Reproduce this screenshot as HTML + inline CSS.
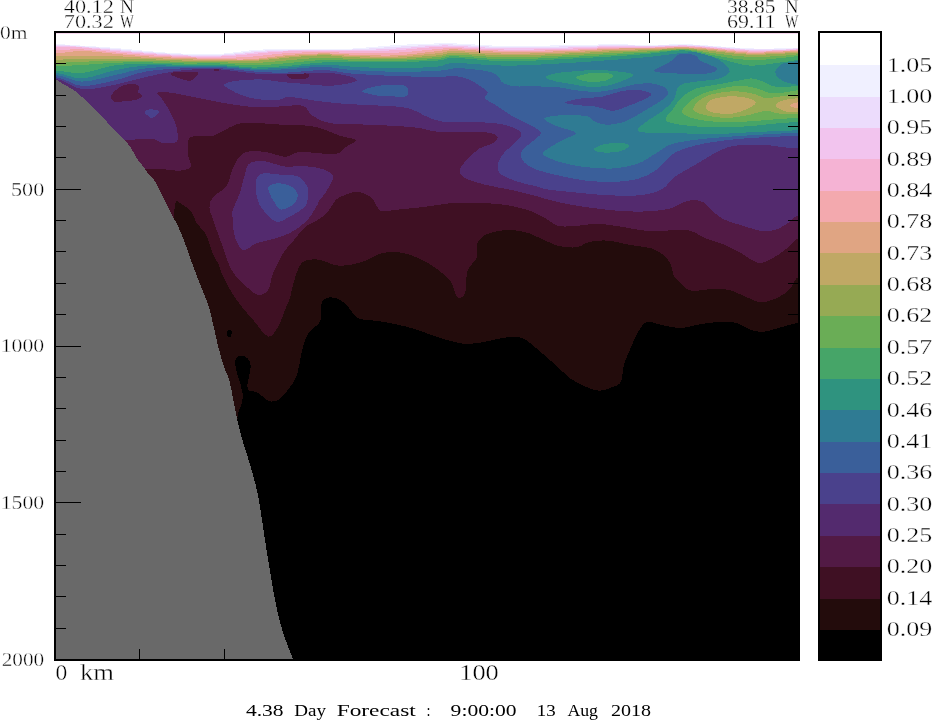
<!DOCTYPE html><html><head><meta charset="utf-8"><title>Forecast section</title>
<style>html,body{margin:0;padding:0;background:#fff;overflow:hidden}svg{display:block}text{font-family:"Liberation Serif",serif;fill:#000;stroke:#fff;stroke-width:.35px}text.t{stroke:none}</style></head><body>
<svg width="933" height="721" viewBox="0 0 933 721">
<rect width="933" height="721" fill="#fff"/>
<defs><clipPath id="pc"><rect x="55" y="32" width="745" height="628.6"/></clipPath></defs>
<g clip-path="url(#pc)" shape-rendering="crispEdges">
<rect x="55" y="32" width="745" height="629" fill="#000"/>
<path fill="#230c0c" d="M20.0 419.0C54.2 419.0 188.8 419.2 225.0 419.0C261.1 418.8 234.6 419.4 236.9 418.0C239.2 416.6 237.9 413.3 238.7 410.9C239.5 408.5 241.0 406.5 241.8 403.7C242.6 400.9 242.4 396.1 243.5 394.0C244.6 391.9 246.6 391.3 248.1 390.8C249.6 390.3 250.4 390.6 252.3 391.1C254.2 391.6 257.1 392.3 259.5 393.8C261.9 395.3 264.6 398.8 266.7 400.1C268.8 401.4 270.0 401.6 272.1 401.5C274.2 401.4 276.6 401.2 279.3 399.2C282.0 397.2 285.6 392.8 288.3 389.3C291.0 385.9 293.7 382.4 295.5 378.5C297.3 374.6 298.1 370.4 299.1 365.9C300.2 361.4 300.6 356.2 301.8 351.4C303.0 346.6 304.7 340.6 306.3 337.0C307.9 333.4 309.3 332.6 311.7 329.8C314.1 327.1 318.9 324.8 320.5 320.5C322.1 316.2 320.1 307.6 321.4 303.8C322.7 300.0 325.2 298.4 328.1 297.6C331.0 296.8 335.5 297.7 338.8 299.2C342.1 300.7 344.7 303.6 348.0 306.8C351.3 310.0 353.1 315.9 358.7 318.4C364.3 320.8 372.6 319.9 381.5 321.5C390.4 323.1 401.9 325.3 412.1 328.2C422.3 331.1 433.5 336.2 442.6 338.8C451.8 341.4 459.4 343.6 467.0 344.0C474.6 344.4 481.8 342.1 488.4 341.0C495.0 339.9 501.1 337.8 506.7 337.3C512.3 336.8 517.3 336.4 521.9 337.9C526.5 339.4 528.5 342.0 534.1 346.5C539.7 351.0 549.2 359.5 555.3 364.8C561.4 370.1 565.4 374.8 570.5 378.5C575.6 382.2 581.0 384.8 585.8 386.8C590.6 388.8 594.9 390.7 599.5 390.7C604.1 390.7 609.6 388.3 613.2 386.8C616.8 385.3 619.1 385.3 620.9 381.6C622.7 377.9 622.4 370.2 623.9 364.8C625.4 359.4 627.7 354.9 630.0 349.5C632.3 344.1 634.9 337.3 637.7 332.7C640.5 328.1 642.7 323.4 646.8 322.1C650.9 320.8 656.5 324.1 662.1 325.1C667.7 326.1 674.3 328.3 680.4 328.2C686.5 328.1 692.6 325.5 698.7 324.5C704.8 323.5 710.9 322.4 717.0 322.1C723.1 321.8 729.7 321.4 735.3 322.7C740.9 324.0 746.0 328.2 750.6 329.7C755.2 331.2 758.2 332.1 762.8 331.8C767.4 331.6 771.8 329.7 778.0 328.2C784.2 326.7 791.3 323.6 800.0 322.7C808.7 321.8 825.0 322.7 830.0 322.7L830 0L20 0Z"/>
<path fill="#000000" d="M241.4 355.9C243.2 356.0 246.1 356.6 247.7 358.3C249.3 360.0 250.6 362.8 250.8 365.9C251.0 369.0 249.6 373.4 249.0 376.7C248.4 380.0 247.2 383.0 247.2 385.7C247.2 388.4 249.7 391.6 249.0 393.0C248.3 394.4 244.4 395.5 243.0 394.0C241.6 392.5 241.5 387.4 240.5 383.9C239.5 380.4 237.8 376.7 236.9 373.1C236.0 369.5 235.1 364.9 235.1 362.3C235.1 359.7 235.9 358.6 237.0 357.5C238.1 356.4 239.6 355.8 241.4 355.9Z"/>
<path fill="#000000" d="M226.8 331.0C227.4 329.9 230.8 329.7 231.5 330.5C232.2 331.3 231.6 334.9 231.0 336.0C230.4 337.1 228.7 337.8 228.0 337.0C227.3 336.2 226.2 332.1 226.8 331.0Z"/>
<path fill="#3f1023" d="M20.0 300.0C41.7 300.0 125.0 306.3 150.0 300.0C175.0 293.7 166.0 275.8 170.0 262.0C174.0 248.2 173.5 226.0 174.2 217.3C174.9 208.6 174.0 212.3 174.4 209.6C174.8 206.9 175.3 202.2 176.4 201.2C177.5 200.2 178.4 202.1 180.9 203.8C183.4 205.5 188.5 208.2 191.2 211.5C193.9 214.8 194.7 220.3 196.9 223.7C199.2 227.1 202.5 228.7 204.7 232.1C206.8 235.5 208.4 240.6 209.8 244.3C211.2 248.1 211.6 251.4 213.0 254.6C214.4 257.8 216.5 259.9 218.2 263.6C219.9 267.3 220.1 270.6 223.2 276.6C226.2 282.7 231.5 292.7 236.5 299.9C241.5 307.1 247.8 313.8 253.1 319.9C258.4 326.0 263.9 335.4 268.1 336.5C272.3 337.6 275.1 331.5 278.1 326.5C281.2 321.5 284.4 311.4 286.4 306.6C288.4 301.8 288.6 302.2 290.0 297.6C291.4 293.1 292.6 285.1 294.6 279.3C296.6 273.5 298.4 265.9 302.2 262.6C306.0 259.3 311.4 259.0 317.5 259.5C323.6 260.0 331.7 265.1 338.8 265.6C345.9 266.1 353.1 264.6 360.2 262.6C367.3 260.6 374.9 255.1 381.5 253.4C388.1 251.7 393.8 251.7 399.9 252.5C406.0 253.3 412.1 255.3 418.2 258.0C424.3 260.7 431.2 264.9 436.5 268.7C441.8 272.5 446.9 276.3 450.2 280.9C453.5 285.5 454.5 293.3 456.3 296.1C458.1 298.9 459.4 298.4 460.9 297.6C462.4 296.8 464.4 296.1 465.5 291.5C466.6 286.9 465.7 275.8 467.6 270.2C469.5 264.6 475.1 262.6 476.8 258.0C478.5 253.4 475.8 246.8 477.7 242.7C479.6 238.6 483.1 235.7 488.4 233.6C493.7 231.5 503.1 230.0 509.7 229.9C516.3 229.8 523.0 231.6 528.0 233.0C533.0 234.4 535.0 236.0 540.0 238.1C545.0 240.2 552.2 244.3 558.3 245.8C564.4 247.3 571.5 247.9 576.6 247.3C581.7 246.7 583.7 243.2 588.8 242.1C593.9 241.0 600.0 240.1 607.1 240.6C614.2 241.1 623.9 243.8 631.5 245.2C639.1 246.6 647.3 246.9 652.9 248.8C658.5 250.7 662.0 253.7 665.1 256.5C668.2 259.3 669.7 262.3 671.2 265.6C672.7 268.9 671.8 272.5 674.3 276.3C676.8 280.1 683.0 286.1 686.5 288.5C690.0 290.9 691.5 290.8 695.6 290.9C699.7 291.0 705.3 289.2 710.9 289.1C716.5 289.0 723.1 288.6 729.2 290.0C735.3 291.4 742.2 295.6 747.5 297.6C752.8 299.6 756.1 302.2 761.2 302.2C766.3 302.2 773.2 299.9 778.0 297.6C782.8 295.3 786.5 292.1 790.2 288.5C793.9 284.9 793.4 278.3 800.0 276.3C806.6 274.3 825.0 276.3 830.0 276.3L830 0L20 0Z"/>
<path fill="#521a45" d="M20.0 169.0C36.7 169.0 98.3 168.9 120.0 169.0C141.7 169.1 142.4 169.3 150.0 169.4C157.6 169.5 160.5 169.2 165.4 169.4C170.3 169.6 175.2 171.2 179.4 170.7C183.6 170.2 189.1 169.6 190.5 166.6C191.9 163.6 187.9 157.2 187.7 152.6C187.5 147.9 187.2 141.5 189.1 138.7C191.0 135.9 194.9 136.4 198.9 135.9C202.9 135.4 207.7 137.3 212.8 135.9C217.9 134.5 224.8 129.6 229.5 127.5C234.2 125.4 235.1 124.1 240.7 123.4C246.3 122.7 256.0 123.2 263.0 123.4C270.0 123.6 277.2 124.6 282.5 124.8C287.8 125.0 289.1 124.3 295.0 124.8C300.9 125.2 310.4 125.7 317.9 127.5C325.4 129.3 333.9 133.8 340.2 135.9C346.5 138.0 354.6 138.2 355.5 140.1C356.4 142.0 349.2 144.8 345.7 147.1C342.2 149.4 342.2 153.2 334.6 154.0C327.0 154.8 308.2 151.5 300.0 152.0C291.8 152.5 290.6 156.7 285.3 156.8C280.1 156.9 274.1 153.5 268.5 152.6C262.9 151.7 256.4 150.7 251.8 151.2C247.2 151.7 243.9 152.4 240.7 155.4C237.4 158.4 234.6 164.3 232.3 169.4C230.0 174.5 229.9 181.5 226.7 186.1C223.4 190.7 215.7 193.5 212.8 197.2C209.9 200.8 209.4 204.2 209.5 208.0C209.6 211.8 211.2 214.1 213.2 220.0C215.2 225.9 218.4 235.0 221.5 243.3C224.6 251.6 227.3 262.7 231.5 269.9C235.7 277.1 242.1 282.4 246.5 286.6C250.9 290.8 254.5 294.3 258.1 294.9C261.7 295.4 265.6 293.5 268.1 289.9C270.6 286.3 270.6 279.4 273.1 273.3C275.6 267.2 279.6 258.9 283.1 253.3C286.6 247.8 290.3 244.4 294.0 240.0C297.7 235.6 300.9 230.5 305.3 226.9C309.7 223.3 316.4 221.2 320.5 218.3C324.6 215.4 327.1 212.2 329.7 209.2C332.2 206.1 333.6 202.2 335.8 200.0C338.0 197.8 339.5 197.2 343.0 195.8C346.5 194.4 352.3 191.5 356.9 191.7C361.5 191.9 367.6 194.9 370.8 197.2C374.1 199.5 374.5 203.3 376.4 205.6C378.3 207.9 378.8 210.5 382.0 211.2C385.2 211.9 388.9 210.5 395.9 209.8C402.9 209.1 413.6 208.2 423.8 207.0C434.0 205.8 444.7 203.3 457.2 202.8C469.7 202.3 487.4 203.0 499.0 204.2C510.6 205.4 519.2 207.5 526.9 209.8C534.6 212.1 539.8 215.3 545.0 218.0C550.2 220.7 553.0 224.6 558.3 225.9C563.6 227.2 570.5 226.2 576.6 225.9C582.7 225.6 588.3 223.8 594.9 223.8C601.5 223.8 608.1 224.8 616.3 225.9C624.4 227.0 635.1 229.7 643.8 230.5C652.4 231.3 660.6 230.5 668.2 230.5C675.8 230.5 683.4 229.2 689.5 230.5C695.6 231.8 699.2 235.8 704.8 238.1C710.4 240.4 717.0 241.6 723.1 244.2C729.2 246.8 736.3 250.6 741.4 253.4C746.5 256.2 750.0 259.5 753.6 261.0C757.2 262.5 758.7 263.6 762.8 262.6C766.9 261.6 773.4 257.7 778.0 254.9C782.6 252.1 786.5 248.6 790.2 245.8C793.9 243.0 793.4 239.4 800.0 238.1C806.6 236.8 825.0 238.1 830.0 238.1L830 0L20 0Z"/>
<path fill="#532a6e" d="M20.0 140.0C33.3 140.0 82.3 140.0 100.0 140.0C117.7 140.0 117.8 140.3 126.4 140.1C135.0 139.9 145.5 138.2 151.5 138.7C157.5 139.2 158.4 142.4 162.6 142.9C166.8 143.4 174.3 144.1 176.6 141.5C178.9 138.9 177.5 132.2 176.6 127.5C175.7 122.8 173.3 118.2 171.0 113.6C168.7 109.0 164.9 103.2 162.6 99.7C160.3 96.2 155.7 93.9 157.1 92.7C158.5 91.5 165.0 92.0 171.0 92.7C177.0 93.4 184.9 95.3 193.3 96.9C201.7 98.5 211.9 100.9 221.2 102.5C230.5 104.1 239.7 105.9 249.0 106.6C258.3 107.3 269.7 106.8 276.9 106.6C284.1 106.4 287.4 105.5 292.0 105.5C296.6 105.5 301.1 104.8 304.5 106.5C307.9 108.2 307.8 112.7 312.3 115.5C316.9 118.3 321.6 121.9 331.8 123.4C342.0 125.0 359.7 124.1 373.6 124.8C387.5 125.5 404.7 126.3 415.4 127.5C426.1 128.7 428.4 131.0 437.7 131.7C447.0 132.4 462.4 131.5 471.2 131.7C480.0 131.9 486.3 132.2 490.7 133.1C495.1 134.0 497.1 135.7 497.6 137.3C498.1 138.9 496.5 141.0 493.5 142.9C490.5 144.8 483.7 145.9 479.5 148.5C475.3 151.1 471.6 154.7 468.4 158.2C465.1 161.7 460.7 166.2 460.0 169.4C459.3 172.7 460.0 175.1 464.2 177.7C468.4 180.2 477.0 182.6 485.1 184.7C493.2 186.8 504.6 188.5 513.0 190.3C521.4 192.2 529.5 194.3 535.3 195.8C541.1 197.3 542.6 198.1 548.0 199.5C553.4 200.9 559.9 202.7 567.9 204.2C575.9 205.7 586.4 207.2 595.7 208.4C605.0 209.6 614.3 210.7 623.6 211.2C632.9 211.7 643.6 211.7 651.5 211.2C659.4 210.7 665.9 209.8 671.0 208.4C676.1 207.0 678.4 204.2 682.1 202.8C685.8 201.4 689.6 200.0 693.3 200.0C697.0 200.0 701.1 200.9 704.4 202.8C707.6 204.7 709.5 208.4 712.8 211.2C716.0 214.0 719.2 217.2 723.9 219.5C728.5 221.8 735.1 223.3 740.7 225.1C746.3 226.9 753.2 229.1 757.4 230.1C761.6 231.1 762.4 231.3 765.8 231.1C769.2 230.9 773.9 230.6 778.0 229.0C782.1 227.4 786.5 223.7 790.2 221.4C793.9 219.1 793.4 216.3 800.0 215.3C806.6 214.3 825.0 215.3 830.0 215.3L830 0L20 0Z"/>
<path fill="#532a6e" d="M300.0 166.0C295.6 165.9 291.5 167.4 285.3 166.6C279.1 165.8 269.1 161.5 263.0 161.0C256.9 160.5 252.0 161.5 249.0 163.8C246.0 166.1 246.4 169.8 244.8 174.9C243.2 180.0 241.4 188.4 239.3 194.4C237.2 200.4 233.4 207.5 232.3 211.2C231.2 214.9 232.1 212.5 232.5 216.7C232.9 220.9 233.0 231.0 234.8 236.6C236.6 242.2 239.5 248.9 243.1 250.0C246.7 251.1 251.5 245.1 256.5 243.3C261.5 241.5 267.6 240.7 273.1 239.0C278.7 237.3 284.2 236.0 289.8 233.0C295.4 230.0 302.0 225.4 306.4 221.0C310.8 216.6 314.2 210.2 316.4 206.7C318.6 203.2 318.1 202.5 319.7 200.0C321.3 197.5 323.9 195.6 326.2 191.7C328.4 187.8 333.7 180.0 333.2 176.3C332.7 172.6 326.9 171.0 323.4 169.4C319.9 167.8 315.9 167.6 312.0 167.0C308.1 166.4 304.4 166.1 300.0 166.0Z"/>
<path fill="#521a45" d="M111.0 96.0C111.7 94.3 113.8 91.8 116.0 90.0C118.2 88.2 120.7 85.9 124.0 85.0C127.3 84.1 133.5 84.0 136.0 84.5C138.5 85.0 138.7 86.8 139.0 88.0C139.3 89.2 137.5 90.7 138.0 92.0C138.5 93.3 142.3 94.7 142.0 96.0C141.7 97.3 138.7 99.2 136.0 100.0C133.3 100.8 129.3 100.7 126.0 101.0C122.7 101.3 118.3 102.2 116.0 102.0C113.7 101.8 112.8 101.0 112.0 100.0C111.2 99.0 110.3 97.7 111.0 96.0Z"/>
<path fill="#521a45" d="M170.7 74.0C171.0 73.1 173.9 72.0 178.0 71.7C182.1 71.4 191.6 71.6 195.0 72.0C198.4 72.4 198.7 72.6 198.2 74.0C197.7 75.4 194.2 79.3 192.0 80.3C189.8 81.3 187.7 80.5 185.0 80.0C182.3 79.5 178.4 78.0 176.0 77.0C173.6 76.0 170.4 74.9 170.7 74.0Z"/>
<path fill="#521a45" d="M212.8 70.0C212.8 69.6 214.9 69.0 216.0 69.0C217.1 69.0 219.6 69.6 219.6 70.0C219.6 70.4 217.1 71.2 216.0 71.2C214.9 71.2 212.8 70.4 212.8 70.0Z"/>
<path fill="#521a45" d="M288.0 73.5C285.7 74.4 288.2 77.7 291.0 78.6C293.8 79.5 301.9 79.2 305.0 78.8C308.1 78.4 309.5 76.9 309.5 76.0C309.5 75.1 308.6 73.6 305.0 73.2C301.4 72.8 290.3 72.6 288.0 73.5Z"/>
<path fill="#4a418c" d="M20.0 78.9C26.1 78.9 46.0 77.2 56.4 78.9C66.8 80.6 72.5 88.1 82.2 89.1C91.9 90.1 103.6 86.8 114.3 84.8C125.0 82.8 134.8 79.3 146.5 76.8C158.2 74.3 172.2 71.2 184.5 70.0C196.8 68.8 208.7 68.9 220.0 69.4C231.3 70.0 241.5 72.5 252.2 73.3C262.9 74.1 271.0 74.2 284.3 74.2C297.6 74.2 319.7 72.2 331.8 73.2C343.9 74.2 356.9 78.1 356.9 80.2C356.9 82.3 341.3 85.2 331.8 85.7C322.3 86.2 308.3 84.1 300.0 83.5C291.7 82.9 288.3 82.7 282.0 82.0C275.7 81.3 268.2 79.8 262.0 79.5C255.8 79.2 250.0 79.7 245.0 80.0C240.0 80.3 235.5 80.7 232.0 81.5C228.5 82.3 224.2 83.6 224.0 85.0C223.8 86.4 228.2 88.3 231.0 90.0C233.8 91.7 236.8 93.5 241.0 95.0C245.2 96.5 250.0 98.2 256.0 99.0C262.0 99.8 271.3 100.3 277.0 100.0C282.7 99.7 283.2 96.8 290.0 97.0C296.8 97.2 308.6 99.9 317.9 101.1C327.2 102.2 336.4 103.2 345.7 103.9C355.0 104.6 363.4 104.6 373.6 105.3C383.8 106.0 397.8 105.9 407.1 108.0C416.4 110.1 422.9 115.5 429.4 117.8C435.9 120.1 439.1 121.3 446.1 122.0C453.1 122.7 462.9 121.8 471.2 122.0C479.5 122.2 489.2 122.5 496.2 123.4C503.2 124.3 508.8 125.7 513.0 127.5C517.2 129.3 521.3 131.7 521.3 134.5C521.3 137.3 516.2 140.8 513.0 144.3C509.8 147.8 504.4 151.7 501.8 155.4C499.2 159.1 497.6 163.3 497.6 166.6C497.6 169.8 498.3 172.3 501.8 174.9C505.3 177.5 512.9 180.0 518.5 181.9C524.1 183.8 530.4 184.8 535.3 186.1C540.2 187.4 542.6 188.6 548.0 189.5C553.4 190.4 559.9 190.9 567.9 191.7C575.9 192.5 586.4 193.7 595.7 194.4C605.0 195.1 615.2 195.8 623.6 195.8C632.0 195.8 639.4 195.6 645.9 194.4C652.4 193.2 658.0 191.7 662.6 188.9C667.2 186.1 670.1 180.7 673.8 177.7C677.5 174.7 680.2 173.5 684.9 170.7C689.5 167.9 696.1 164.2 701.7 161.0C707.3 157.8 712.8 153.8 718.4 151.2C724.0 148.6 727.7 146.8 735.1 145.7C742.5 144.6 755.1 144.6 763.0 144.8C770.9 145.0 776.3 146.5 782.5 147.1C788.7 147.7 792.1 148.3 800.0 148.5C807.9 148.7 825.0 148.5 830.0 148.5L830 0L20 0Z"/>
<path fill="#4a418c" d="M256.0 180.5C257.0 176.4 258.6 174.4 263.0 173.5C267.4 172.6 277.3 174.6 282.5 174.9C287.7 175.2 290.9 174.9 294.0 175.5C297.1 176.1 298.8 176.3 301.1 178.5C303.5 180.7 307.1 185.0 308.1 188.9C309.1 192.8 307.8 198.8 307.0 202.0C306.2 205.2 306.0 205.9 303.1 208.3C300.2 210.8 294.2 214.5 289.8 216.7C285.4 218.9 280.8 222.7 276.4 221.6C271.9 220.5 266.3 213.9 263.1 210.0C259.9 206.1 258.2 202.9 257.0 198.0C255.8 193.1 255.0 184.6 256.0 180.5Z"/>
<path fill="#4a418c" d="M144.5 112.0C145.0 111.1 147.7 109.6 150.0 109.4C152.3 109.2 157.5 109.9 158.5 111.0C159.5 112.1 157.2 114.9 156.0 116.0C154.8 117.1 152.5 118.0 151.0 117.8C149.5 117.6 148.1 116.0 147.0 115.0C145.9 114.0 144.0 112.9 144.5 112.0Z"/>
<path fill="#3a5f9a" d="M20.0 77.3C26.1 77.3 46.0 75.9 56.4 77.3C66.8 78.7 72.5 85.4 82.2 85.9C91.9 86.4 103.6 82.9 114.3 80.5C125.0 78.1 134.8 73.4 146.5 71.4C158.2 69.4 172.2 68.8 184.5 68.3C196.8 67.8 208.7 67.7 220.0 68.2C231.3 68.7 241.5 70.7 252.2 71.4C262.9 72.2 272.5 72.9 284.3 72.7C296.1 72.5 311.7 70.0 322.9 70.1C334.1 70.2 339.6 72.5 351.5 73.5C363.4 74.5 380.0 75.4 394.3 76.0C408.6 76.6 427.1 76.9 437.2 76.9C447.3 76.9 449.8 75.6 455.0 76.0C460.2 76.4 464.4 77.8 468.7 79.5C473.0 81.2 477.5 84.2 480.7 86.3C483.9 88.4 486.9 90.3 487.6 92.3C488.3 94.3 483.7 96.1 485.1 98.3C486.5 100.5 491.6 102.3 496.2 105.3C500.8 108.3 506.9 112.9 513.0 116.4C519.0 119.9 527.9 123.4 532.5 126.2C537.1 129.0 540.8 130.5 540.8 133.1C540.8 135.7 535.5 138.7 532.5 141.5C529.5 144.3 524.6 147.0 522.7 149.8C520.8 152.6 520.1 155.4 521.3 158.2C522.5 161.0 525.6 164.2 529.7 166.6C533.8 169.0 540.6 170.9 546.0 172.5C551.4 174.1 555.9 175.0 562.3 176.3C568.7 177.6 576.2 179.6 584.6 180.5C593.0 181.4 603.7 182.1 612.5 181.9C621.3 181.7 630.1 181.2 637.5 179.1C644.9 177.0 651.5 173.3 657.1 169.4C662.7 165.5 666.4 158.9 671.0 155.4C675.6 151.9 678.9 150.6 684.9 148.5C690.9 146.4 698.8 144.4 707.2 142.9C715.6 141.4 725.8 140.2 735.1 139.3C744.4 138.4 752.2 137.9 763.0 137.3C773.8 136.7 788.8 136.1 800.0 135.9C811.2 135.7 825.0 135.9 830.0 135.9L830 0L20 0Z"/>
<path fill="#3a5f9a" d="M268.5 187.5C269.4 185.2 273.2 183.5 276.9 183.3C280.6 183.1 287.4 184.2 290.8 186.1C294.2 187.9 296.8 191.6 297.5 194.4C298.2 197.2 296.3 200.8 295.0 202.8C293.7 204.9 292.3 205.6 289.8 206.7C287.3 207.8 282.6 210.4 279.8 209.3C277.0 208.2 274.5 202.0 273.1 200.0C271.7 198.0 272.1 199.3 271.3 197.2C270.5 195.1 267.6 189.8 268.5 187.5Z"/>
<path fill="#3a5f9a" d="M361.7 91.1C362.5 89.8 370.3 87.5 375.0 86.5C379.7 85.5 384.8 85.0 390.0 85.0C395.2 85.0 403.5 84.5 406.3 86.3C409.1 88.1 408.9 94.1 407.0 95.8C405.1 97.5 399.5 96.5 395.0 96.5C390.5 96.5 384.2 96.4 380.0 96.0C375.8 95.6 373.1 94.8 370.0 94.0C366.9 93.2 360.9 92.3 361.7 91.1Z"/>
<path fill="#4a418c" d="M565.1 102.5C565.6 101.3 575.8 99.2 581.8 98.3C587.8 97.4 594.8 98.1 601.3 96.9C607.8 95.7 614.8 92.5 620.8 91.3C626.8 90.1 632.4 89.4 637.5 89.9C642.6 90.4 651.0 92.2 651.5 94.1C652.0 96.0 644.5 99.0 640.3 101.1C636.1 103.2 631.0 105.0 626.4 106.6C621.8 108.2 617.6 110.8 612.5 110.8C607.4 110.8 601.3 107.5 595.7 106.6C590.1 105.7 584.1 106.0 579.0 105.3C573.9 104.6 564.6 103.7 565.1 102.5Z"/>
<path fill="#2f7b93" d="M20.0 75.2C26.1 75.2 46.0 74.1 56.4 75.2C66.8 76.3 72.5 81.6 82.2 81.6C91.9 81.6 103.6 77.4 114.3 75.2C125.0 73.0 134.8 69.5 146.5 68.2C158.2 66.9 172.2 67.4 184.5 67.2C196.8 67.0 208.7 66.5 220.0 66.9C231.3 67.3 241.5 69.3 252.2 69.7C262.9 70.1 272.5 69.9 284.3 69.4C296.1 68.9 311.7 66.8 322.9 66.9C334.1 67.0 339.6 69.2 351.5 70.0C363.4 70.8 380.0 71.5 394.3 71.7C408.6 71.9 427.1 71.5 437.2 70.9C447.3 70.3 449.2 68.6 455.0 68.3C460.8 68.0 466.5 68.6 472.2 69.2C477.9 69.8 485.0 70.6 489.3 71.7C493.6 72.8 495.6 74.1 497.9 76.0C500.2 77.9 500.1 81.2 503.0 82.9C505.9 84.6 510.1 85.7 515.0 86.3C519.9 86.9 525.1 86.1 532.2 86.3C539.4 86.5 551.0 86.6 557.9 87.2C564.8 87.8 567.1 89.1 573.4 89.9C579.7 90.7 588.3 92.1 595.7 91.9C603.1 91.7 611.5 89.8 618.0 88.5C624.5 87.2 629.2 85.1 634.8 84.3C640.4 83.5 646.6 83.0 651.5 83.5C656.4 84.0 661.2 85.6 664.0 87.1C666.8 88.6 668.4 90.6 668.2 92.7C668.0 94.8 665.4 97.4 662.6 99.7C659.8 102.0 655.7 104.0 651.5 106.6C647.3 109.1 642.1 112.4 637.5 115.0C632.9 117.6 628.7 120.4 623.6 122.0C618.5 123.6 611.5 124.8 606.9 124.8C602.2 124.8 599.0 123.4 595.7 122.0C592.5 120.6 592.0 117.6 587.4 116.4C582.8 115.2 573.9 115.0 567.9 115.0C561.9 115.0 555.0 115.7 551.1 116.4C547.2 117.1 543.3 117.6 544.2 119.2C545.1 120.8 551.4 123.9 556.7 126.2C562.0 128.5 575.3 130.8 576.2 133.1C577.1 135.4 566.9 137.5 562.3 140.1C557.7 142.7 551.6 146.2 548.4 148.5C545.1 150.8 541.4 151.9 542.8 154.0C544.2 156.1 550.2 158.9 556.7 161.0C563.2 163.1 572.5 165.3 581.8 166.6C591.1 167.8 603.2 169.0 612.5 168.5C621.8 168.0 630.1 166.5 637.5 163.8C644.9 161.2 651.5 155.8 657.1 152.6C662.7 149.3 665.0 146.4 671.0 144.3C677.0 142.2 684.9 141.3 693.3 140.1C701.7 138.9 711.9 138.1 721.2 137.3C730.5 136.5 739.7 136.0 749.0 135.4C758.3 134.8 768.4 134.1 776.9 133.7C785.4 133.3 791.1 133.2 800.0 133.1C808.9 133.0 825.0 133.1 830.0 133.1L830 0L20 0Z"/>
<path fill="#3a5f9a" d="M653.9 70.4C654.4 69.2 660.0 67.2 663.0 65.5C666.0 63.9 670.0 62.1 672.2 60.5C674.5 58.9 674.7 57.1 676.5 56.0C678.3 54.9 680.0 53.9 682.9 53.7C685.8 53.5 691.1 54.1 693.6 54.8C696.1 55.5 696.8 57.0 698.0 58.0C699.2 59.0 699.2 59.9 701.0 61.0C702.8 62.1 706.3 63.2 709.0 64.5C711.7 65.8 716.9 67.3 717.2 68.7C717.5 70.1 714.4 72.1 710.8 73.0C707.2 73.9 701.8 74.0 695.7 74.1C689.6 74.2 680.2 73.7 674.3 73.4C668.3 73.1 663.4 73.0 660.0 72.5C656.6 72.0 653.4 71.6 653.9 70.4Z"/>
<path fill="#2f937f" d="M20.0 73.0C26.1 73.0 46.0 72.1 56.4 73.0C66.8 73.9 72.5 78.9 82.2 78.4C91.9 78.0 103.6 72.5 114.3 70.3C125.0 68.1 134.8 66.2 146.5 65.5C158.2 64.8 172.2 65.9 184.5 66.0C196.8 66.1 208.7 65.5 220.0 65.9C231.3 66.3 241.5 68.3 252.2 68.6C262.9 68.9 272.5 68.5 284.3 67.8C296.1 67.1 311.7 64.9 322.9 64.7C334.1 64.5 339.6 66.0 351.5 66.6C363.4 67.2 380.0 68.3 394.3 68.3C408.6 68.3 427.1 67.5 437.2 66.6C447.3 65.7 443.4 63.1 455.0 63.0C466.6 62.9 488.2 65.7 506.5 65.7C524.8 65.7 546.7 64.2 564.8 63.2C582.9 62.2 600.9 60.8 615.0 59.7C629.1 58.7 638.0 58.1 649.7 56.9C661.4 55.7 675.4 53.5 685.0 52.7C694.6 51.9 702.6 51.7 707.2 52.3C711.8 52.9 710.0 54.6 712.8 56.5C715.6 58.4 721.1 60.9 723.9 63.4C726.7 66.0 730.4 69.2 729.5 71.8C728.6 74.4 724.0 77.2 718.4 78.8C712.8 80.4 702.6 80.4 696.1 81.6C689.6 82.8 683.1 82.7 679.4 85.7C675.7 88.7 676.6 95.5 673.8 99.7C671.0 103.9 667.2 107.1 662.6 110.8C658.0 114.5 650.1 118.8 645.9 122.0C641.7 125.2 636.6 128.5 637.5 130.3C638.4 132.2 644.5 132.6 651.5 133.1C658.5 133.6 670.1 132.9 679.4 133.1C688.7 133.3 697.9 134.5 707.2 134.5C716.5 134.5 725.8 133.6 735.1 133.1C744.4 132.6 752.2 132.2 763.0 131.7C773.8 131.2 788.8 130.5 800.0 130.3C811.2 130.1 825.0 130.3 830.0 130.3L830 0L20 0Z"/>
<path fill="#2f937f" d="M545.6 77.4C545.6 76.0 551.6 74.2 556.7 73.2C561.8 72.2 569.7 71.8 576.2 71.2C582.7 70.7 589.2 69.9 595.7 69.9C602.2 69.9 608.9 70.4 615.2 71.2C621.5 72.0 632.5 72.9 633.4 74.6C634.3 76.3 625.2 79.8 620.8 81.6C616.4 83.4 612.0 84.8 606.9 85.7C601.8 86.6 595.8 87.3 590.2 87.1C584.6 86.9 579.0 85.2 573.4 84.3C567.8 83.4 561.3 82.8 556.7 81.6C552.1 80.4 545.6 78.8 545.6 77.4Z"/>
<path fill="#2f937f" d="M594.3 148.5C595.5 147.3 599.7 145.2 604.1 144.3C608.5 143.4 616.6 142.7 620.8 142.9C625.0 143.1 629.2 144.3 629.2 145.7C629.2 147.1 624.5 150.0 620.8 151.2C617.1 152.3 610.9 152.5 606.9 152.6C602.9 152.7 599.1 152.2 597.0 151.5C594.9 150.8 593.1 149.7 594.3 148.5Z"/>
<path fill="#2f7b93" d="M775.1 71.9C775.5 69.6 779.0 66.0 781.5 64.4C784.0 62.8 785.2 62.7 790.0 62.3C794.8 61.9 806.7 58.4 810.0 62.0C813.3 65.7 813.7 80.8 810.0 84.2C806.3 87.7 793.0 83.7 787.9 82.7C782.8 81.7 781.4 80.2 779.3 78.4C777.2 76.6 774.7 74.2 775.1 71.9Z"/>
<path fill="#46a568" d="M20.0 70.9C26.1 70.9 46.0 70.6 56.4 70.9C66.8 71.2 72.5 73.9 82.2 73.0C91.9 72.1 103.6 67.0 114.3 65.5C125.0 64.0 134.8 64.0 146.5 63.9C158.2 63.8 172.2 64.7 184.5 64.9C196.8 65.1 208.7 64.5 220.0 64.9C231.3 65.3 241.5 67.3 252.2 67.5C262.9 67.7 272.5 67.0 284.3 66.2C296.1 65.4 311.7 63.0 322.9 62.4C334.1 61.8 339.6 62.3 351.5 62.3C363.4 62.3 380.0 62.6 394.3 62.3C408.6 62.0 427.1 61.3 437.2 60.6C447.3 59.9 443.4 57.9 455.0 58.0C466.6 58.1 488.2 61.2 506.5 61.4C524.8 61.5 546.7 59.8 564.8 58.9C582.9 58.0 600.9 57.2 615.0 56.3C629.1 55.4 638.0 54.7 649.7 53.7C661.4 52.7 673.8 49.8 685.0 50.5C696.2 51.2 706.5 55.5 717.2 58.0C727.9 60.5 738.6 64.8 749.3 65.5C760.0 66.2 773.0 63.2 781.5 62.3C790.0 61.4 791.9 60.4 800.0 60.0C808.1 59.6 825.0 60.0 830.0 60.0L830 0L20 0Z"/>
<path fill="#46a568" d="M576.2 77.4C576.7 76.0 585.1 73.9 590.2 73.2C595.3 72.5 603.1 72.7 606.9 73.2C610.7 73.7 613.5 74.7 613.0 76.0C612.5 77.3 608.4 80.1 604.1 81.0C599.8 81.9 592.0 82.2 587.4 81.6C582.8 81.0 575.7 78.8 576.2 77.4Z"/>
<path fill="#46a568" d="M665.4 119.2C665.4 116.6 671.0 111.7 673.8 108.0C676.6 104.3 678.4 100.2 682.1 96.9C685.8 93.7 690.1 90.6 696.1 88.5C702.1 86.4 711.0 85.7 718.4 84.3C725.8 82.9 735.1 81.2 740.7 80.2C746.3 79.2 748.1 78.3 751.8 78.5C755.5 78.7 759.8 80.4 763.0 81.6C766.2 82.8 768.0 84.8 771.3 85.7C774.5 86.6 777.7 87.1 782.5 87.1C787.3 87.1 793.8 86.0 800.0 85.7C806.2 85.4 816.7 79.0 820.0 85.0C823.3 91.0 823.3 115.8 820.0 122.0C816.7 128.2 807.2 121.8 800.0 122.0C792.8 122.2 785.4 122.7 776.9 123.4C768.4 124.1 758.3 125.5 749.0 126.2C739.7 126.9 730.5 127.5 721.2 127.5C711.9 127.5 701.2 126.9 693.3 126.2C685.4 125.5 678.4 124.6 673.8 123.4C669.1 122.2 665.4 121.8 665.4 119.2Z"/>
<path fill="#6aad56" d="M20.0 66.0C26.1 66.0 46.0 66.2 56.4 66.0C66.8 65.8 72.5 65.5 82.2 65.0C91.9 64.5 103.6 63.2 114.3 62.8C125.0 62.3 134.8 62.2 146.5 62.3C158.2 62.4 172.2 63.3 184.5 63.5C196.8 63.7 208.7 63.2 220.0 63.5C231.3 63.9 241.5 65.4 252.2 65.4C262.9 65.4 272.5 64.3 284.3 63.4C296.1 62.5 311.7 60.5 322.9 60.0C334.1 59.6 339.6 60.5 351.5 60.6C363.4 60.7 380.0 61.2 394.3 60.9C408.6 60.6 427.1 59.6 437.2 58.9C447.3 58.1 443.4 56.2 455.0 56.3C466.6 56.4 488.2 59.3 506.5 59.4C524.8 59.5 546.7 58.0 564.8 57.2C582.9 56.4 600.9 55.4 615.0 54.6C629.1 53.8 638.0 53.3 649.7 52.5C661.4 51.7 673.8 49.3 685.0 49.9C696.2 50.4 706.5 54.1 717.2 55.9C727.9 57.6 738.6 59.8 749.3 60.2C760.0 60.6 773.0 58.7 781.5 58.0C790.0 57.3 791.9 56.3 800.0 56.0C808.1 55.7 825.0 56.0 830.0 56.0L830 0L20 0Z"/>
<path fill="#6aad56" d="M682.1 112.2C681.2 109.2 687.2 104.1 690.5 101.1C693.8 98.1 696.6 96.2 701.7 94.1C706.8 92.0 714.7 89.9 721.2 88.5C727.7 87.1 734.7 85.7 740.7 85.7C746.7 85.7 752.8 87.3 757.4 88.5C762.0 89.7 764.3 92.0 768.5 92.7C772.7 93.4 777.2 93.2 782.5 92.7C787.8 92.2 793.8 90.5 800.0 89.9C806.2 89.3 816.7 84.3 820.0 89.0C823.3 93.7 823.3 113.2 820.0 118.0C816.7 122.8 807.2 117.6 800.0 117.8C792.8 118.0 785.4 118.6 776.9 119.2C768.4 119.8 758.3 120.9 749.0 121.4C739.7 121.9 730.0 122.4 721.2 122.0C712.4 121.6 702.6 120.8 696.1 119.2C689.6 117.6 683.0 115.2 682.1 112.2Z"/>
<path fill="#96aa54" d="M20.0 62.8C26.1 62.8 46.0 63.0 56.4 62.8C66.8 62.6 72.5 62.1 82.2 61.8C91.9 61.4 103.6 60.9 114.3 60.7C125.0 60.5 134.8 60.5 146.5 60.7C158.2 60.9 172.2 61.8 184.5 62.0C196.8 62.3 208.7 62.0 220.0 62.2C231.3 62.4 241.5 63.5 252.2 63.2C262.9 63.0 272.5 61.6 284.3 60.7C296.1 59.7 311.7 58.0 322.9 57.7C334.1 57.4 339.6 58.6 351.5 58.9C363.4 59.2 380.0 59.7 394.3 59.4C408.6 59.1 427.1 57.9 437.2 57.1C447.3 56.3 443.4 54.6 455.0 54.6C466.6 54.6 488.2 57.3 506.5 57.4C524.8 57.5 546.7 56.2 564.8 55.4C582.9 54.7 600.9 53.6 615.0 52.9C629.1 52.2 638.0 52.0 649.7 51.4C661.4 50.8 673.8 48.8 685.0 49.2C696.2 49.6 706.5 52.5 717.2 53.7C727.9 55.0 738.6 56.5 749.3 56.9C760.0 57.3 773.0 56.3 781.5 55.9C790.0 55.4 791.9 54.6 800.0 54.3C808.1 54.0 825.0 54.3 830.0 54.3L830 0L20 0Z"/>
<path fill="#96aa54" d="M693.3 109.4C692.6 106.9 697.0 102.2 700.3 99.7C703.5 97.2 707.0 95.5 712.8 94.1C718.6 92.7 728.1 91.3 735.1 91.3C742.1 91.3 749.5 92.9 754.6 94.1C759.7 95.3 762.1 97.8 765.8 98.3C769.5 98.8 771.2 97.6 776.9 96.9C782.6 96.2 792.8 94.6 800.0 94.1C807.2 93.6 816.7 90.8 820.0 94.0C823.3 97.2 823.3 110.3 820.0 113.6C816.7 116.9 806.7 113.6 800.0 113.6C793.3 113.6 785.4 114.1 779.7 113.6C774.0 113.1 770.9 110.6 765.8 110.8C760.7 111.0 755.5 113.8 749.0 115.0C742.5 116.2 734.1 117.8 726.7 117.8C719.3 117.8 710.0 116.4 704.4 115.0C698.8 113.6 694.0 112.0 693.3 109.4Z"/>
<path fill="#c0a865" d="M20.0 59.6C26.1 59.6 46.0 59.7 56.4 59.6C66.8 59.5 72.5 59.3 82.2 59.1C91.9 58.9 103.6 58.5 114.3 58.5C125.0 58.5 134.8 58.8 146.5 59.1C158.2 59.5 172.2 60.3 184.5 60.6C196.8 60.9 208.7 60.7 220.0 60.8C231.3 60.9 241.5 61.6 252.2 61.1C262.9 60.6 272.5 58.9 284.3 57.9C296.1 56.9 311.7 55.4 322.9 55.3C334.1 55.2 339.6 56.8 351.5 57.2C363.4 57.7 380.0 58.3 394.3 58.0C408.6 57.7 427.1 56.2 437.2 55.4C447.3 54.5 443.4 52.9 455.0 52.9C466.6 52.9 488.2 55.3 506.5 55.4C524.8 55.5 546.7 54.4 564.8 53.7C582.9 53.0 600.9 51.8 615.0 51.2C629.1 50.6 638.0 50.6 649.7 50.2C661.4 49.8 673.8 48.4 685.0 48.6C696.2 48.8 706.5 50.6 717.2 51.6C727.9 52.6 738.6 54.4 749.3 54.8C760.0 55.1 773.0 54.1 781.5 53.7C790.0 53.3 791.9 52.8 800.0 52.6C808.1 52.4 825.0 52.6 830.0 52.6L830 0L20 0Z"/>
<path fill="#c0a865" d="M705.8 106.6C706.5 104.9 707.4 101.4 711.4 99.7C715.4 98.0 723.7 96.6 729.5 96.3C735.3 96.0 741.8 96.7 746.2 97.7C750.6 98.7 756.0 100.5 756.0 102.5C756.0 104.5 750.2 107.6 746.2 109.4C742.2 111.2 737.4 113.0 732.3 113.6C727.2 114.2 719.8 113.7 715.6 113.1C711.4 112.5 708.6 111.1 707.0 110.0C705.4 108.9 705.1 108.3 705.8 106.6Z"/>
<path fill="#c0a865" d="M775.5 105.3C775.5 103.3 781.2 100.9 785.3 99.7C789.4 98.5 794.2 98.6 800.0 98.3C805.8 98.0 816.7 95.7 820.0 98.0C823.3 100.3 823.3 109.8 820.0 112.2C816.7 114.6 805.8 112.3 800.0 112.2C794.2 112.1 789.4 112.6 785.3 111.4C781.2 110.2 775.5 107.2 775.5 105.3Z"/>
<path fill="#e0a583" d="M20.0 56.4C26.1 56.4 46.0 56.4 56.4 56.4C66.8 56.4 72.5 56.4 82.2 56.4C91.9 56.4 103.6 55.9 114.3 56.1C125.0 56.3 134.8 57.3 146.5 57.8C158.2 58.3 172.2 58.9 184.5 59.3C196.8 59.7 208.7 59.9 220.0 60.0C231.3 60.1 241.5 60.7 252.2 60.2C262.9 59.6 272.5 57.6 284.3 56.6C296.1 55.6 311.7 54.5 322.9 54.3C334.1 54.2 339.6 55.5 351.5 55.9C363.4 56.3 380.0 57.1 394.3 56.7C408.6 56.3 427.1 54.2 437.2 53.3C447.3 52.4 443.4 51.1 455.0 51.1C466.6 51.2 488.2 53.5 506.5 53.7C524.8 53.9 546.7 53.1 564.8 52.5C582.9 51.8 600.9 50.4 615.0 49.9C629.1 49.4 638.0 49.6 649.7 49.3C661.4 49.0 673.8 47.8 685.0 48.0C696.2 48.2 706.5 49.5 717.2 50.5C727.9 51.5 738.6 53.4 749.3 53.8C760.0 54.1 773.0 53.0 781.5 52.7C790.0 52.3 791.9 51.7 800.0 51.5C808.1 51.4 825.0 51.5 830.0 51.5L830 0L20 0Z"/>
<path fill="#e0a583" d="M790.8 104.5C792.1 103.7 796.0 102.4 800.0 102.0C804.0 101.6 812.5 101.0 815.0 102.0C817.5 103.0 817.5 107.0 815.0 108.0C812.5 109.0 803.8 108.2 800.0 108.0C796.2 107.8 793.5 107.6 792.0 107.0C790.5 106.4 789.5 105.3 790.8 104.5Z"/>
<path fill="#f3a9ae" d="M20.0 53.2C26.1 53.2 46.0 53.6 56.4 53.2C66.8 52.8 72.5 50.9 82.2 51.0C91.9 51.1 103.6 52.8 114.3 53.7C125.0 54.6 134.8 55.7 146.5 56.4C158.2 57.1 172.2 57.5 184.5 58.0C196.8 58.5 208.7 59.0 220.0 59.2C231.3 59.4 241.5 59.9 252.2 59.2C262.9 58.6 272.5 56.3 284.3 55.3C296.1 54.3 311.7 53.5 322.9 53.4C334.1 53.3 339.6 54.3 351.5 54.6C363.4 54.9 380.0 56.0 394.3 55.4C408.6 54.8 427.1 52.2 437.2 51.2C447.3 50.2 443.4 49.3 455.0 49.4C466.6 49.5 488.2 51.7 506.5 52.0C524.8 52.3 546.7 51.8 564.8 51.2C582.9 50.6 600.9 49.1 615.0 48.6C629.1 48.1 638.0 48.6 649.7 48.4C661.4 48.2 673.8 47.1 685.0 47.3C696.2 47.5 706.5 48.5 717.2 49.4C727.9 50.3 738.6 52.3 749.3 52.7C760.0 53.1 773.0 52.0 781.5 51.6C790.0 51.2 791.9 50.7 800.0 50.5C808.1 50.3 825.0 50.5 830.0 50.5L830 0L20 0Z"/>
<path fill="#f5b3d4" d="M20.0 50.0C26.1 50.0 46.0 50.1 56.4 50.0C66.8 49.9 72.5 49.0 82.2 49.4C91.9 49.8 103.6 51.4 114.3 52.4C125.0 53.3 134.8 54.3 146.5 55.0C158.2 55.8 172.2 56.7 184.5 57.1C196.8 57.6 208.7 58.0 220.0 57.9C231.3 57.8 241.5 57.4 252.2 56.6C262.9 55.8 272.5 54.1 284.3 53.3C296.1 52.6 311.7 52.2 322.9 52.1C334.1 52.0 339.6 52.8 351.5 52.9C363.4 53.0 380.0 53.5 394.3 52.8C408.6 52.2 427.1 49.8 437.2 49.0C447.3 48.3 443.4 47.9 455.0 48.2C466.6 48.5 488.2 50.5 506.5 50.8C524.8 51.1 546.7 50.5 564.8 50.0C582.9 49.5 600.9 48.1 615.0 47.7C629.1 47.4 638.0 47.9 649.7 47.7C661.4 47.6 673.8 46.5 685.0 46.7C696.2 46.8 706.5 47.9 717.2 48.8C727.9 49.6 738.6 51.2 749.3 51.6C760.0 52.0 773.0 51.2 781.5 51.0C790.0 50.7 791.9 50.1 800.0 49.9C808.1 49.8 825.0 49.9 830.0 49.9L830 0L20 0Z"/>
<path fill="#f2c4ee" d="M20.0 46.8C26.1 46.8 46.0 46.7 56.4 46.8C66.8 46.9 72.5 46.8 82.2 47.5C91.9 48.2 103.6 50.0 114.3 51.0C125.0 52.0 134.8 52.8 146.5 53.7C158.2 54.6 172.2 55.8 184.5 56.3C196.8 56.8 208.7 57.0 220.0 56.6C231.3 56.2 241.5 54.9 252.2 54.0C262.9 53.1 272.5 51.9 284.3 51.4C296.1 50.9 311.7 50.8 322.9 50.8C334.1 50.8 339.6 51.3 351.5 51.2C363.4 51.1 380.0 51.0 394.3 50.3C408.6 49.6 427.1 47.4 437.2 46.9C447.3 46.4 443.4 46.5 455.0 47.0C466.6 47.5 488.2 49.3 506.5 49.6C524.8 49.9 546.7 49.3 564.8 48.8C582.9 48.3 600.9 47.2 615.0 46.9C629.1 46.6 638.0 47.2 649.7 47.1C661.4 46.9 673.8 45.8 685.0 46.0C696.2 46.2 706.5 47.4 717.2 48.1C727.9 48.9 738.6 50.1 749.3 50.5C760.0 50.9 773.0 50.5 781.5 50.3C790.0 50.1 791.9 49.5 800.0 49.4C808.1 49.2 825.0 49.4 830.0 49.4L830 0L20 0Z"/>
<path fill="#ecdcfc" d="M20.0 45.9C26.1 45.9 46.0 45.7 56.4 45.9C66.8 46.1 72.5 46.2 82.2 46.9C91.9 47.6 103.6 48.9 114.3 49.9C125.0 50.9 134.8 51.9 146.5 52.8C158.2 53.7 172.2 54.9 184.5 55.4C196.8 55.9 208.7 56.2 220.0 55.7C231.3 55.3 241.5 53.6 252.2 52.7C262.9 51.8 272.5 51.0 284.3 50.6C296.1 50.1 311.7 50.2 322.9 50.2C334.1 50.1 339.6 50.6 351.5 50.3C363.4 50.1 380.0 49.4 394.3 48.6C408.6 47.8 427.1 46.2 437.2 45.7C447.3 45.3 443.4 45.4 455.0 45.8C466.6 46.2 488.2 48.1 506.5 48.4C524.8 48.7 546.7 48.0 564.8 47.6C582.9 47.2 600.9 46.2 615.0 46.0C629.1 45.8 638.0 46.5 649.7 46.4C661.4 46.3 673.8 45.2 685.0 45.4C696.2 45.6 706.5 46.7 717.2 47.5C727.9 48.2 738.6 49.4 749.3 49.8C760.0 50.2 773.0 49.8 781.5 49.7C790.0 49.5 791.9 49.0 800.0 48.8C808.1 48.7 825.0 48.8 830.0 48.8L830 0L20 0Z"/>
<path fill="#f0f0ff" d="M20.0 45.0C26.1 45.0 46.0 44.8 56.4 45.0C66.8 45.2 72.5 45.7 82.2 46.3C91.9 46.9 103.6 47.9 114.3 48.9C125.0 49.8 134.8 51.0 146.5 51.9C158.2 52.8 172.2 54.1 184.5 54.6C196.8 55.1 208.7 55.4 220.0 54.9C231.3 54.3 241.5 52.3 252.2 51.4C262.9 50.5 272.5 50.0 284.3 49.7C296.1 49.4 311.7 49.6 322.9 49.5C334.1 49.5 339.6 49.9 351.5 49.5C363.4 49.0 380.0 47.7 394.3 46.9C408.6 46.1 427.1 44.9 437.2 44.6C447.3 44.2 443.4 44.2 455.0 44.6C466.6 45.0 488.2 46.9 506.5 47.2C524.8 47.5 546.7 46.7 564.8 46.4C582.9 46.1 600.9 45.3 615.0 45.2C629.1 45.1 638.0 45.8 649.7 45.8C661.4 45.7 673.8 44.6 685.0 44.7C696.2 44.9 706.5 46.1 717.2 46.8C727.9 47.6 738.6 48.7 749.3 49.1C760.0 49.5 773.0 49.2 781.5 49.0C790.0 48.9 791.9 48.4 800.0 48.3C808.1 48.1 825.0 48.3 830.0 48.3L830 0L20 0Z"/>
<path fill="#ffffff" d="M20.0 44.1C26.1 44.1 46.0 43.8 56.4 44.1C66.8 44.4 72.5 45.1 82.2 45.7C91.9 46.3 103.6 46.9 114.3 47.8C125.0 48.7 134.8 50.0 146.5 51.0C158.2 52.0 172.2 53.2 184.5 53.7C196.8 54.2 208.7 54.6 220.0 54.0C231.3 53.4 241.5 51.0 252.2 50.1C262.9 49.2 272.5 49.1 284.3 48.9C296.1 48.7 311.7 48.9 322.9 48.9C334.1 48.9 339.6 49.2 351.5 48.6C363.4 48.0 380.0 46.1 394.3 45.2C408.6 44.3 427.1 43.7 437.2 43.4C447.3 43.1 443.4 43.0 455.0 43.4C466.6 43.8 488.2 45.7 506.5 46.0C524.8 46.3 546.7 45.5 564.8 45.2C582.9 44.9 600.9 44.3 615.0 44.3C629.1 44.3 638.0 45.1 649.7 45.1C661.4 45.1 673.8 43.9 685.0 44.1C696.2 44.3 706.5 45.5 717.2 46.2C727.9 46.9 738.6 48.0 749.3 48.4C760.0 48.8 773.0 48.5 781.5 48.4C790.0 48.3 791.9 47.8 800.0 47.7C808.1 47.6 825.0 47.7 830.0 47.7L830 0L20 0Z"/>
<path fill="#f6d6ee" d="M55 33H800V34H55Z"/>
<path fill="#696969" d="M55.0 79.0C56.7 80.0 61.3 82.8 65.0 85.0C68.7 87.2 73.0 89.4 77.0 92.5C81.0 95.6 85.0 100.0 89.0 103.8C93.0 107.5 97.5 111.4 101.0 115.0C104.5 118.6 106.8 122.0 110.0 125.5C113.2 129.0 117.2 132.6 120.5 136.0C123.8 139.4 126.8 142.1 129.5 145.8C132.2 149.6 134.5 154.8 137.0 158.5C139.5 162.2 142.5 165.6 144.5 168.3C146.5 171.1 147.3 173.0 149.0 175.0C150.7 177.0 152.2 176.9 154.5 180.5C156.8 184.1 159.8 190.6 162.9 196.7C166.0 202.8 170.8 212.6 173.2 217.3C175.6 222.0 175.5 220.7 177.5 225.0C179.5 229.3 182.4 236.4 185.0 243.3C187.6 250.2 190.5 259.1 193.3 266.6C196.1 274.1 199.1 281.8 201.6 288.2C204.1 294.6 206.4 298.8 208.3 304.9C210.2 311.0 211.7 318.2 213.3 324.9C214.9 331.6 216.0 338.0 217.8 345.0C219.6 352.0 222.0 360.8 224.0 367.0C226.0 373.2 227.5 373.5 229.7 382.0C231.8 390.5 234.8 408.4 236.9 418.0C239.0 427.6 240.0 431.7 242.3 439.7C244.6 447.7 247.8 456.4 250.5 466.0C253.2 475.6 255.7 483.5 258.3 497.1C260.9 510.7 263.6 531.4 266.2 547.6C268.8 563.8 271.4 580.6 274.0 594.2C276.6 607.8 278.7 618.0 282.0 629.1C285.3 640.2 291.8 655.7 293.8 661.0L293.8 680L40 680L40 79Z"/>
</g>
<g fill="#000" shape-rendering="crispEdges">
<rect x="54" y="31" width="746" height="2"/>
<rect x="54" y="31" width="2" height="630"/>
<rect x="54" y="659" width="746" height="2"/>
<rect x="798" y="31" width="2" height="630"/>
<rect x="56" y="63" width="10" height="1"/>
<rect x="788" y="63" width="10" height="1"/>
<rect x="56" y="95" width="10" height="1"/>
<rect x="788" y="95" width="10" height="1"/>
<rect x="56" y="126" width="10" height="1"/>
<rect x="788" y="126" width="10" height="1"/>
<rect x="56" y="157" width="10" height="1"/>
<rect x="788" y="157" width="10" height="1"/>
<rect x="56" y="189" width="25" height="1"/>
<rect x="773" y="189" width="25" height="1"/>
<rect x="56" y="220" width="10" height="1"/>
<rect x="788" y="220" width="10" height="1"/>
<rect x="56" y="251" width="10" height="1"/>
<rect x="788" y="251" width="10" height="1"/>
<rect x="56" y="283" width="10" height="1"/>
<rect x="788" y="283" width="10" height="1"/>
<rect x="56" y="314" width="10" height="1"/>
<rect x="788" y="314" width="10" height="1"/>
<rect x="56" y="346" width="25" height="1"/>
<rect x="773" y="346" width="25" height="1"/>
<rect x="56" y="377" width="10" height="1"/>
<rect x="788" y="377" width="10" height="1"/>
<rect x="56" y="408" width="10" height="1"/>
<rect x="788" y="408" width="10" height="1"/>
<rect x="56" y="440" width="10" height="1"/>
<rect x="788" y="440" width="10" height="1"/>
<rect x="56" y="471" width="10" height="1"/>
<rect x="788" y="471" width="10" height="1"/>
<rect x="56" y="502" width="25" height="1"/>
<rect x="773" y="502" width="25" height="1"/>
<rect x="56" y="534" width="10" height="1"/>
<rect x="788" y="534" width="10" height="1"/>
<rect x="56" y="565" width="10" height="1"/>
<rect x="788" y="565" width="10" height="1"/>
<rect x="56" y="596" width="10" height="1"/>
<rect x="788" y="596" width="10" height="1"/>
<rect x="56" y="628" width="10" height="1"/>
<rect x="788" y="628" width="10" height="1"/>
<rect x="139" y="33" width="1" height="10"/>
<rect x="139" y="649" width="1" height="10"/>
<rect x="224" y="33" width="1" height="10"/>
<rect x="224" y="649" width="1" height="10"/>
<rect x="309" y="33" width="1" height="10"/>
<rect x="309" y="649" width="1" height="10"/>
<rect x="394" y="33" width="1" height="10"/>
<rect x="394" y="649" width="1" height="10"/>
<rect x="479" y="33" width="1" height="20"/>
<rect x="479" y="639" width="1" height="20"/>
<rect x="564" y="33" width="1" height="10"/>
<rect x="564" y="649" width="1" height="10"/>
<rect x="649" y="33" width="1" height="10"/>
<rect x="649" y="649" width="1" height="10"/>
<rect x="734" y="33" width="1" height="10"/>
<rect x="734" y="649" width="1" height="10"/>
<rect x="819" y="629.6" width="62" height="31.6" fill="#000000"/>
<rect x="819" y="598.3" width="62" height="31.6" fill="#230c0c"/>
<rect x="819" y="566.9" width="62" height="31.6" fill="#3f1023"/>
<rect x="819" y="535.5" width="62" height="31.6" fill="#521a45"/>
<rect x="819" y="504.1" width="62" height="31.6" fill="#532a6e"/>
<rect x="819" y="472.8" width="62" height="31.6" fill="#4a418c"/>
<rect x="819" y="441.4" width="62" height="31.6" fill="#3a5f9a"/>
<rect x="819" y="410.0" width="62" height="31.6" fill="#2f7b93"/>
<rect x="819" y="378.7" width="62" height="31.6" fill="#2f937f"/>
<rect x="819" y="347.3" width="62" height="31.6" fill="#46a568"/>
<rect x="819" y="315.9" width="62" height="31.6" fill="#6aad56"/>
<rect x="819" y="284.6" width="62" height="31.6" fill="#96aa54"/>
<rect x="819" y="253.2" width="62" height="31.6" fill="#c0a865"/>
<rect x="819" y="221.8" width="62" height="31.6" fill="#e0a583"/>
<rect x="819" y="190.4" width="62" height="31.6" fill="#f3a9ae"/>
<rect x="819" y="159.1" width="62" height="31.6" fill="#f5b3d4"/>
<rect x="819" y="127.7" width="62" height="31.6" fill="#f2c4ee"/>
<rect x="819" y="96.3" width="62" height="31.6" fill="#ecdcfc"/>
<rect x="819" y="65.0" width="62" height="31.6" fill="#f0f0ff"/>
<rect x="819" y="33.6" width="62" height="31.6" fill="#ffffff"/>
<rect x="818" y="31" width="64" height="2"/><rect x="818" y="31" width="2" height="630"/><rect x="880" y="31" width="2" height="630"/>
</g>
<text x="886.8" y="636.0" font-size="21.0" textLength="45.5" lengthAdjust="spacingAndGlyphs" text-anchor="start">0.09</text>
<text x="886.8" y="604.6" font-size="21.0" textLength="45.5" lengthAdjust="spacingAndGlyphs" text-anchor="start">0.14</text>
<text x="886.8" y="573.3" font-size="21.0" textLength="45.5" lengthAdjust="spacingAndGlyphs" text-anchor="start">0.20</text>
<text x="886.8" y="541.9" font-size="21.0" textLength="45.5" lengthAdjust="spacingAndGlyphs" text-anchor="start">0.25</text>
<text x="886.8" y="510.6" font-size="21.0" textLength="45.5" lengthAdjust="spacingAndGlyphs" text-anchor="start">0.30</text>
<text x="886.8" y="479.2" font-size="21.0" textLength="45.5" lengthAdjust="spacingAndGlyphs" text-anchor="start">0.36</text>
<text x="886.8" y="447.8" font-size="21.0" textLength="45.5" lengthAdjust="spacingAndGlyphs" text-anchor="start">0.41</text>
<text x="886.8" y="416.5" font-size="21.0" textLength="45.5" lengthAdjust="spacingAndGlyphs" text-anchor="start">0.46</text>
<text x="886.8" y="385.1" font-size="21.0" textLength="45.5" lengthAdjust="spacingAndGlyphs" text-anchor="start">0.52</text>
<text x="886.8" y="353.8" font-size="21.0" textLength="45.5" lengthAdjust="spacingAndGlyphs" text-anchor="start">0.57</text>
<text x="886.8" y="322.4" font-size="21.0" textLength="45.5" lengthAdjust="spacingAndGlyphs" text-anchor="start">0.62</text>
<text x="886.8" y="291.0" font-size="21.0" textLength="45.5" lengthAdjust="spacingAndGlyphs" text-anchor="start">0.68</text>
<text x="886.8" y="259.7" font-size="21.0" textLength="45.5" lengthAdjust="spacingAndGlyphs" text-anchor="start">0.73</text>
<text x="886.8" y="228.3" font-size="21.0" textLength="45.5" lengthAdjust="spacingAndGlyphs" text-anchor="start">0.78</text>
<text x="886.8" y="197.0" font-size="21.0" textLength="45.5" lengthAdjust="spacingAndGlyphs" text-anchor="start">0.84</text>
<text x="886.8" y="165.6" font-size="21.0" textLength="45.5" lengthAdjust="spacingAndGlyphs" text-anchor="start">0.89</text>
<text x="886.8" y="134.2" font-size="21.0" textLength="45.5" lengthAdjust="spacingAndGlyphs" text-anchor="start">0.95</text>
<text x="886.8" y="102.9" font-size="21.0" textLength="45.5" lengthAdjust="spacingAndGlyphs" text-anchor="start">1.00</text>
<text x="886.8" y="71.5" font-size="21.0" textLength="45.5" lengthAdjust="spacingAndGlyphs" text-anchor="start">1.05</text>
<text x="0.0" y="39.2" font-size="18.0" textLength="27.5" lengthAdjust="spacingAndGlyphs" text-anchor="start">0m</text>
<text x="44.2" y="195.9" font-size="18.0" textLength="33.2" lengthAdjust="spacingAndGlyphs" text-anchor="end">500</text>
<text x="44.2" y="352.3" font-size="18.0" textLength="43.5" lengthAdjust="spacingAndGlyphs" text-anchor="end">1000</text>
<text x="44.2" y="509.2" font-size="18.0" textLength="43.5" lengthAdjust="spacingAndGlyphs" text-anchor="end">1500</text>
<text x="44.2" y="666.2" font-size="18.0" textLength="42.5" lengthAdjust="spacingAndGlyphs" text-anchor="end">2000</text>
<text x="55.5" y="680.2" font-size="22.3" textLength="11.8" lengthAdjust="spacingAndGlyphs" text-anchor="start">0</text>
<text x="80.0" y="680.2" font-size="22.3" textLength="34.0" lengthAdjust="spacingAndGlyphs" text-anchor="start">km</text>
<text x="459.3" y="680.2" font-size="22.3" textLength="39.5" lengthAdjust="spacingAndGlyphs" text-anchor="start">100</text>
<text x="63.8" y="13.2" font-size="18.0" textLength="50.0" lengthAdjust="spacingAndGlyphs" text-anchor="start">40.12</text>
<text x="120.0" y="13.2" font-size="18.0" textLength="14.0" lengthAdjust="spacingAndGlyphs" text-anchor="start">N</text>
<text x="63.8" y="27.8" font-size="18.0" textLength="50.0" lengthAdjust="spacingAndGlyphs" text-anchor="start">70.32</text>
<text x="120.0" y="27.8" font-size="18.0" textLength="14.0" lengthAdjust="spacingAndGlyphs" text-anchor="start">W</text>
<text x="727.0" y="12.6" font-size="18.0" textLength="48.5" lengthAdjust="spacingAndGlyphs" text-anchor="start">38.85</text>
<text x="785.0" y="12.6" font-size="18.0" textLength="13.5" lengthAdjust="spacingAndGlyphs" text-anchor="start">N</text>
<text x="727.0" y="28.1" font-size="18.0" textLength="48.5" lengthAdjust="spacingAndGlyphs" text-anchor="start">69.11</text>
<text x="785.0" y="28.1" font-size="18.0" textLength="13.5" lengthAdjust="spacingAndGlyphs" text-anchor="start">W</text>
<text class="t" x="245.9" y="716.2" font-size="16.3" textLength="37.7" lengthAdjust="spacingAndGlyphs" text-anchor="start">4.38</text>
<text class="t" x="294.2" y="716.2" font-size="16.3" textLength="31.8" lengthAdjust="spacingAndGlyphs" text-anchor="start">Day</text>
<text class="t" x="336.7" y="716.2" font-size="16.3" textLength="79.0" lengthAdjust="spacingAndGlyphs" text-anchor="start">Forecast</text>
<text class="t" x="426.5" y="716.2" font-size="16.3" textLength="4.0" lengthAdjust="spacingAndGlyphs" text-anchor="start">:</text>
<text class="t" x="450.6" y="716.2" font-size="16.3" textLength="66.0" lengthAdjust="spacingAndGlyphs" text-anchor="start">9:00:00</text>
<text class="t" x="536.7" y="716.2" font-size="16.3" textLength="18.9" lengthAdjust="spacingAndGlyphs" text-anchor="start">13</text>
<text class="t" x="567.4" y="716.2" font-size="16.3" textLength="30.6" lengthAdjust="spacingAndGlyphs" text-anchor="start">Aug</text>
<text class="t" x="611.0" y="716.2" font-size="16.3" textLength="40.1" lengthAdjust="spacingAndGlyphs" text-anchor="start">2018</text>
</svg></body></html>
